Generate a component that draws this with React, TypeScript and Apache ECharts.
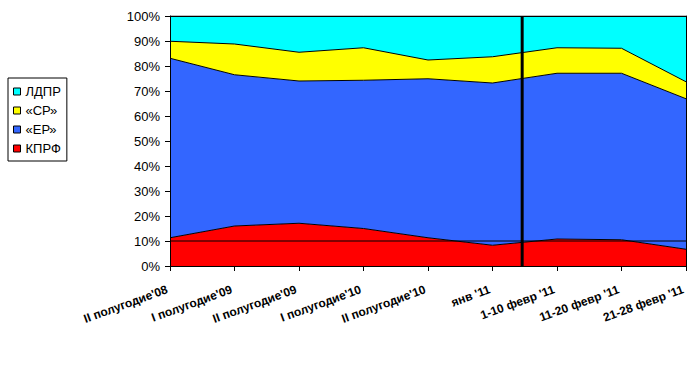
import React, { useEffect, useRef } from "react";
import * as echarts from "echarts";

const categories = [
  "II полугодие'08",
  "I полугодие'09",
  "II полугодие'09",
  "I полугодие'10",
  "II полугодие'10",
  "янв '11",
  "1-10 февр '11",
  "11-20 февр '11",
  "21-28 февр '11",
];
const kprf = [11.3, 16.0, 17.1, 15.0, 11.3, 8.3, 10.8, 10.5, 6.7];
const er = [71.8, 60.5, 56.9, 59.3, 63.6, 64.9, 66.3, 66.6, 60.2];
const sr = [6.8, 12.3, 11.5, 13.0, 7.5, 10.5, 10.2, 10.0, 6.8];
const ldpr = [10.1, 11.2, 14.5, 12.7, 17.6, 16.3, 12.7, 12.9, 26.3];
const seriesNames = ["КПРФ", "«ЕР»", "«СР»", "ЛДПР"];
const legendOrder = ["ЛДПР", "«СР»", "«ЕР»", "КПРФ"];
const colors = ["#FF0000", "#3366FF", "#FFFF00", "#00FFFF"];
const THRESHOLD = 10;
const DIVIDER_AT = 5.46;
const Y_MIN = 0;
const Y_MAX = 100;
const Y_STEP = 10;

const FONT = "'Liberation Sans', Arial, sans-serif";

export default function App() {
  const ref = useRef<HTMLDivElement>(null);
  useEffect(() => {
    if (!ref.current) return;
    const chart = echarts.init(ref.current, undefined, { renderer: "svg" });
    const values = [kprf, er, sr, ldpr];
    const areaSeries = values.map((d, i) => ({
      name: seriesNames[i],
      type: "line",
      stack: "total",
      data: d,
      symbol: "none",
      xAxisIndex: 0,
      yAxisIndex: 0,
      lineStyle: { color: "#000", width: 1 },
      itemStyle: { color: colors[i] },
      areaStyle: { color: colors[i], opacity: 1 },
      z: 2,
    }));
    const last = categories.length - 1;
    chart.setOption({
      animation: false,
      grid: { left: 170, right: 6, top: 16, bottom: 107 },
      legend: {
        data: legendOrder,
        orient: "vertical",
        left: 8,
        top: 78,
        padding: [7, 6, 6, 5],
        itemGap: 6,
        itemWidth: 7,
        itemHeight: 7,
        icon: "rect",
        borderColor: "#000",
        borderWidth: 1,
        borderRadius: 0,
        textStyle: { fontSize: 13, fontFamily: FONT, color: "#000" },
        itemStyle: { borderColor: "#000", borderWidth: 1 },
        lineStyle: { opacity: 0 },
      },
      xAxis: [
        {
          type: "category",
          data: categories,
          boundaryGap: false,
          z: 10,
          axisLine: { lineStyle: { color: "#000", width: 1 } },
          axisTick: { show: true, length: 5, alignWithLabel: true, lineStyle: { color: "#000" } },
          axisLabel: {
            rotate: 20,
            interval: 0,
            margin: 22,
            fontSize: 12,
            fontWeight: "bold",
            fontFamily: FONT,
            color: "#000",
            padding: [0, 3, 0, 0],
          },
          splitLine: { show: false },
        },
        {
          type: "value",
          min: 0,
          max: last,
          position: "top",
          z: 10,
          axisLine: { show: true, onZero: false, lineStyle: { color: "#000", width: 1 } },
          axisTick: { show: false },
          axisLabel: { show: false },
          splitLine: { show: false },
        },
      ],
      yAxis: [
        {
          type: "value",
          min: Y_MIN,
          max: Y_MAX,
          interval: Y_STEP,
          z: 10,
          axisLine: { show: true, lineStyle: { color: "#000", width: 1 } },
          axisTick: { show: true, length: 5, lineStyle: { color: "#000" } },
          axisLabel: {
            formatter: "{value}%",
            fontSize: 13,
            fontFamily: FONT,
            color: "#000",
            margin: 10,
          },
          splitLine: { show: false },
        },
        {
          type: "value",
          min: Y_MIN,
          max: Y_MAX,
          position: "right",
          z: 10,
          axisLine: { show: true, onZero: false, lineStyle: { color: "#000", width: 1 } },
          axisTick: { show: false },
          axisLabel: { show: false },
          splitLine: { show: false },
        },
      ],
      series: [
        ...areaSeries,
        {
          type: "line",
          xAxisIndex: 1,
          yAxisIndex: 0,
          data: [
            [0, THRESHOLD],
            [last, THRESHOLD],
          ],
          symbol: "none",
          silent: true,
          lineStyle: { color: "#000", width: 1 },
          z: 5,
        },
        {
          type: "line",
          xAxisIndex: 1,
          yAxisIndex: 0,
          data: [
            [DIVIDER_AT, Y_MIN],
            [DIVIDER_AT, Y_MAX],
          ],
          symbol: "none",
          silent: true,
          lineStyle: { color: "#000", width: 3 },
          z: 6,
        },
      ],
    });
    return () => chart.dispose();
  }, []);
  return (
    <div
      ref={ref}
      style={{ position: "fixed", left: 0, top: 0, width: 692, height: 373, background: "#fff" }}
    />
  );
}
